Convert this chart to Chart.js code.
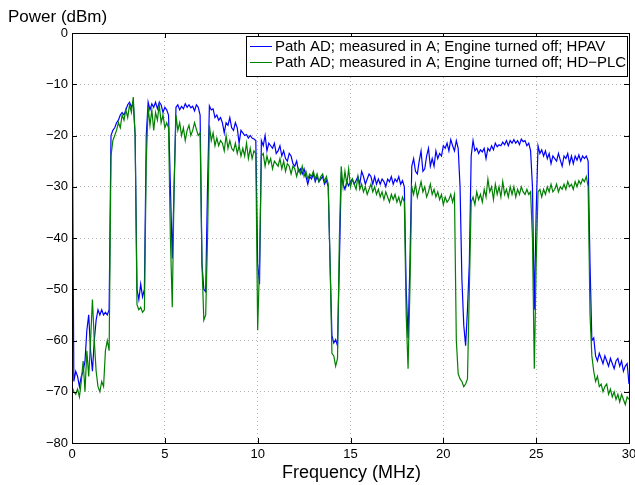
<!DOCTYPE html>
<html>
<head>
<meta charset="utf-8">
<title>Power vs Frequency</title>
<script src="https://cdn.jsdelivr.net/npm/chart.js@4.4.1/dist/chart.umd.min.js"></script>
<style>
  html, body { margin:0; padding:0; background:#fff; }
  #wrap { width:635px; height:485px; }
</style>
</head>
<body>
<div id="wrap"><canvas id="chart" width="635" height="485"></canvas></div>
<script>
const FONT = '"Liberation Sans", Arial, Helvetica, sans-serif';
const BLUE  = '#0000ff';
const GREEN = '#008000';

// sampling grid of the measured spectrum (MHz)
const FREQ_STEP = 0.1;
const X_TICKS = [0, 5, 10, 15, 20, 25, 30];
const Y_TICKS = [0, -10, -20, -30, -40, -50, -60, -70, -80];
const SERIES_NAMES = [
  'Path AD; measured in A; Engine turned off; HPAV',
  'Path AD; measured in A; Engine turned off; HD\u2212PLC'
];

// HPAV, one value every 0.1 MHz from 0 to 30 MHz (dBm)
const HPAV = [
  -3.3, -68, -66, -67, -69, -67, -66, -64, -58, -55,
  -62, -66, -60, -56, -54, -55, -54, -55, -54.5, -55,
  -54, -20, -19, -18.5, -17.5, -17, -16, -15.5, -16, -15,
  -14, -13.5, -14.5, -13.5, -20, -50, -52, -49, -51.5, -50,
  -20, -13.5, -15, -13.8, -14.5, -13.5, -14.8, -13.5, -14, -15.5,
  -14.5, -15, -16, -30, -44, -30, -14.5, -14, -15, -14.3,
  -14.8, -13.8, -14.5, -14, -14.6, -14.3, -15.2, -14, -14.5, -16,
  -45, -50, -50.5, -30, -14.2, -15, -14.8, -16.5, -16, -17,
  -16.5, -17.5, -19.5, -17.5, -18, -16.5, -18.5, -19, -17.5, -18.5,
  -21.5, -19, -19.5, -20, -19.8, -20.5, -20, -20.5, -20.7, -21,
  -45, -49, -21, -22, -20, -23, -21.5, -22, -22.5, -21.5,
  -23.5, -23, -22, -24, -23, -24.5, -25, -23.5, -24, -25.5,
  -26, -25, -27, -26.5, -27.5, -26.5, -28, -29.5, -28, -28.5,
  -27.5, -29, -28, -29, -28.5, -28, -29.5, -28.7, -30, -45,
  -59, -60.5, -59.8, -61, -45, -28, -29.5, -30.5, -29, -29.8,
  -29, -28.5, -29.5, -28.8, -28, -29.5, -27, -28, -29.5, -28.5,
  -27.5, -28, -29.5, -28, -29.5, -28.5, -29.5, -28.5, -29, -30,
  -28.5, -29, -28, -29.5, -28.5, -29, -28, -29.5, -28.8, -30,
  -50, -59.5, -45, -26, -24.5, -27, -27.5, -25, -23, -27,
  -26.5, -24, -22.5, -26, -24.5, -26, -23, -24.5, -23.5, -24,
  -22, -22.5, -21.5, -23, -20.8, -22, -23, -21, -22.5, -30,
  -48, -57, -61, -54, -45, -24, -21, -23, -22.5, -23.5,
  -22.8, -23.2, -22.5, -24.5, -22.5, -23, -22, -22.8, -21.5, -22.2,
  -21.8, -22, -21.3, -21.8, -21, -22, -21, -21.5, -20.8, -21.5,
  -21, -21.8, -20.7, -21.2, -21, -22, -21.5, -23, -30, -54,
  -35, -22, -23.5, -22.8, -24, -23, -24.5, -23.5, -25.5, -24,
  -24.5, -25, -23.5, -24.8, -26, -24, -24.5, -23.5, -25.5, -24,
  -25.5, -24, -24.8, -23.8, -25, -24, -24.5, -24, -25, -45,
  -60, -59.5, -63, -64, -62.5, -63.5, -64.5, -63, -64, -65,
  -63.5, -64.5, -65.5, -64, -63.5, -65, -64, -66, -65, -64.5,
  -68.5
];

// HD-PLC, same grid (dBm)
const HDPLC = [
  -69, -70, -70.5, -69.5, -71, -68, -64, -70, -62, -67,
  -60, -52, -60, -66, -69, -70, -68, -69, -62, -60,
  -62, -24, -21, -20, -19, -17.5, -18.5, -16, -17, -15,
  -16.5, -14, -15.5, -12.5, -20, -53, -54, -53.5, -54.5, -54,
  -25, -14.5, -18, -15, -19, -15.5, -17, -14, -17.5, -16,
  -18.5, -17.5, -18.5, -40, -53.5, -30, -16, -19, -17.5, -20,
  -18.5, -21, -19, -18, -20, -19, -17.5, -18.8, -20, -19.5,
  -45, -56, -55, -40, -18, -21, -19.5, -22, -20.5, -22,
  -21, -21.5, -23, -20, -22.5, -21, -22.5, -23, -21.5, -23.5,
  -22, -24, -22.5, -24, -21.5, -24.5, -22.5, -24.5, -23, -23.5,
  -58, -45, -24, -23.5, -26, -24, -25.5, -24.5, -26.5, -25,
  -25.5, -26, -24.5, -26.5, -25, -27, -25.5, -26, -27.5, -26,
  -26.5, -28, -26.5, -27.5, -26, -28, -27, -28.5, -27.5, -28,
  -27, -28.5, -27.5, -29, -28, -27.5, -29, -28, -29.5, -45,
  -62.5, -63, -65, -63.5, -40, -26, -30, -27, -29.5, -26.5,
  -30, -28.5, -29.5, -30.5, -28, -30.5, -29.5, -31, -30, -31.5,
  -30.5, -29.5, -31, -30, -31.5, -30.5, -32, -31, -32.5, -31,
  -32, -33, -31.5, -32.5, -31.5, -33, -32, -33.5, -32, -33,
  -55, -65.5, -50, -30, -31.5, -29.5, -32, -30.5, -29, -31,
  -30, -32, -31, -29.5, -31.5, -30.5, -32, -31, -32.5, -31.5,
  -33.5, -32, -33, -32.5, -31.5, -33, -31.5, -60, -66.5, -67.5,
  -68, -69, -68.5, -67.5, -50, -33, -32, -33.5, -31, -32.5,
  -31.5, -33, -30.5, -32, -28.5, -31, -30, -32.5, -29.5, -31.5,
  -30, -32, -29, -31.5, -30.5, -32, -30, -31.5, -30, -32,
  -30.5, -31.5, -30, -31, -31.5, -30.5, -31.5, -31, -40, -65.5,
  -45, -31, -30.5, -32, -30.5, -31.5, -30, -31, -29.5, -31,
  -30.5, -29.5, -31, -30, -30.5, -29.5, -30.5, -29, -30, -29.5,
  -30.5, -29, -30, -28.8, -29.5, -28.5, -29, -28, -30, -55,
  -63, -66, -68, -67, -69, -68.5, -70, -69, -68.5, -70.5,
  -69.5, -71, -70, -71.5, -70.5, -72, -70.5, -71.5, -72.5, -71,
  -71.5
];

const toPoints = arr => arr.map((v, i) => ({ x: +(i * FREQ_STEP).toFixed(1), y: v }));
const minus = v => String(v).replace('-', '\u2212');

// box, inward ticks, axis titles and legend drawn in MATLAB style
const matlabFrame = {
  id: 'matlabFrame',
  afterDatasetsDraw(chart) {
    const { ctx, chartArea: a, scales: { x, y } } = chart;
    const T = 5;
    ctx.save();
    ctx.strokeStyle = '#000';
    ctx.lineWidth = 1;
    ctx.beginPath();
    X_TICKS.forEach(v => {
      const px = Math.round(x.getPixelForValue(v)) + 0.5;
      ctx.moveTo(px, a.bottom); ctx.lineTo(px, a.bottom - T);
      ctx.moveTo(px, a.top);    ctx.lineTo(px, a.top + T);
    });
    Y_TICKS.forEach(v => {
      const py = Math.round(y.getPixelForValue(v)) + 0.5;
      ctx.moveTo(a.left, py);  ctx.lineTo(a.left + T, py);
      ctx.moveTo(a.right, py); ctx.lineTo(a.right - T, py);
    });
    ctx.stroke();
    ctx.strokeRect(Math.round(a.left) + 0.5, Math.round(a.top) + 0.5,
                   Math.round(a.right - a.left), Math.round(a.bottom - a.top));

    // axis titles
    ctx.fillStyle = '#000';
    ctx.font = `17px ${FONT}`;
    ctx.textBaseline = 'alphabetic';
    ctx.textAlign = 'left';
    ctx.fillText('Power (dBm)', 8, 21.5);
    ctx.font = `18px ${FONT}`;
    ctx.textAlign = 'center';
    ctx.fillText('Frequency (MHz)', (a.left + a.right) / 2 + 1, 477.5);

    // legend
    const lx = 246.5, ly = 36.5, lw = 381, lh = 40;
    ctx.fillStyle = '#fff';
    ctx.fillRect(lx, ly, lw, lh);
    ctx.strokeStyle = '#000';
    ctx.strokeRect(lx, ly, lw, lh);
    ctx.font = `15px ${FONT}`;
    ctx.textAlign = 'left';
    ctx.textBaseline = 'middle';
    [BLUE, GREEN].forEach((c, i) => {
      const yy = 46 + i * 16;
      ctx.strokeStyle = c;
      ctx.beginPath();
      ctx.moveTo(250, yy + 0.5); ctx.lineTo(272, yy + 0.5);
      ctx.stroke();
      ctx.fillStyle = '#000';
      ctx.fillText(SERIES_NAMES[i], 275, yy + 1);
    });
    ctx.restore();
  }
};

new Chart(document.getElementById('chart'), {
  type: 'line',
  data: {
    datasets: [
      { label: SERIES_NAMES[0], data: toPoints(HPAV), borderColor: BLUE, borderWidth: 1.2, order: 1 },
      { label: SERIES_NAMES[1], data: toPoints(HDPLC), borderColor: GREEN, borderWidth: 1.2, order: 0 }
    ]
  },
  options: {
    responsive: false, animation: false, devicePixelRatio: 1,
    layout: { padding: { left: 0, top: 33, right: 6, bottom: 0 } },
    elements: { point: { radius: 0 }, line: { tension: 0 } },
    plugins: { legend: { display: false }, tooltip: { enabled: false } },
    scales: {
      x: {
        type: 'linear', min: 0, max: 30,
        afterFit: s => { s.height = 42; s.paddingLeft = 0; s.paddingRight = 0; },
        afterBuildTicks: s => { s.ticks = X_TICKS.map(v => ({ value: v })); },
        ticks: { color: '#000', font: { family: FONT, size: 13 }, padding: 4, maxRotation: 0,
                 autoSkip: false, callback: v => minus(v) },
        grid: { color: '#b4b4b4', drawTicks: false },
        border: { display: false, dash: [1, 3] }
      },
      y: {
        min: -80, max: 0,
        afterFit: s => { s.width = 72; s.paddingTop = 0; s.paddingBottom = 0; },
        afterBuildTicks: s => { s.ticks = Y_TICKS.map(v => ({ value: v })); },
        ticks: { color: '#000', font: { family: FONT, size: 13 }, padding: 4,
                 autoSkip: false, callback: v => minus(v) },
        grid: { color: '#b4b4b4', drawTicks: false },
        border: { display: false, dash: [1, 3] }
      }
    }
  },
  plugins: [matlabFrame]
});
</script>
</body>
</html>
